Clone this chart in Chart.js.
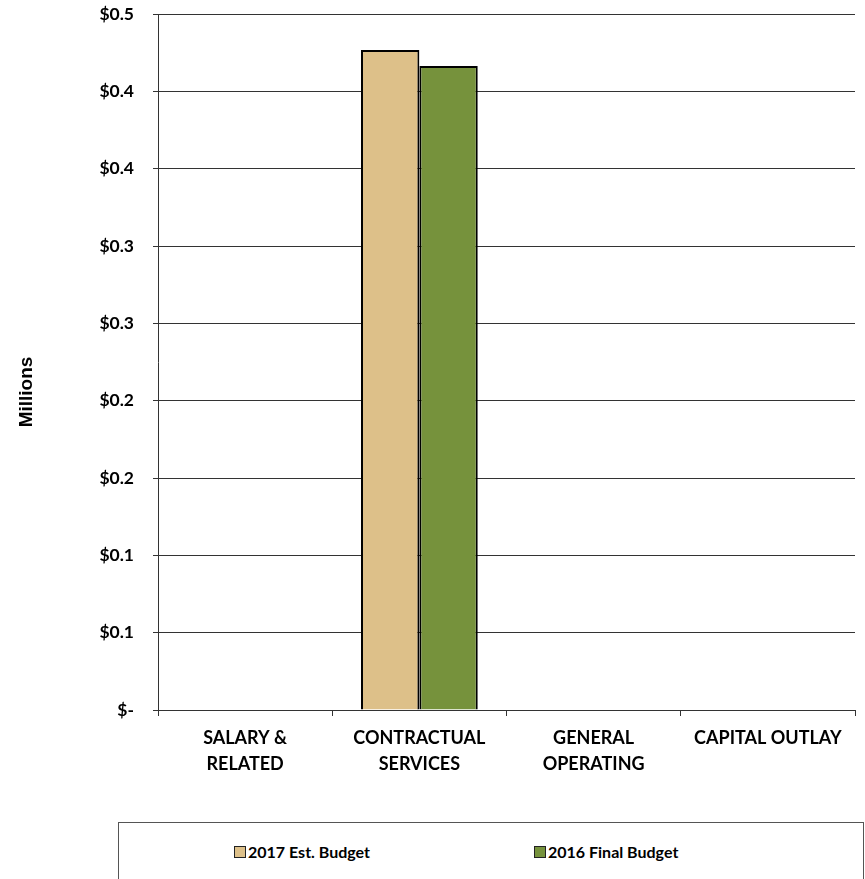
<!DOCTYPE html>
<html>
<head>
<meta charset="utf-8">
<script src="https://cdn.jsdelivr.net/npm/chart.js@4.4.1/dist/chart.umd.min.js"></script>
<style>
  html, body { margin: 0; padding: 0; background: #fff; }
  #wrap { position: relative; width: 865px; height: 879px; overflow: hidden; }
  #chartBox { position: absolute; left: 0; top: 0; width: 865px; height: 815px; }
  #legend {
    position: absolute; left: 118px; top: 822px; width: 746px; height: 70px;
    border: 1px solid #555; box-sizing: border-box;
    font: bold 16px Lato, sans-serif; color: #000;
  }
  #legend .item { position: absolute; top: 19px; display: flex; align-items: center; }
  #legend .swatch { width: 12px; height: 12px; border: 1px solid #222; margin-right: 2px; box-sizing: border-box; }
</style>
</head>
<body>
<div id="wrap">
  <div id="chartBox"><canvas id="budgetChart"></canvas></div>
  <div id="legend"></div>
</div>
<script>
const categories = [['SALARY &', 'RELATED'], ['CONTRACTUAL', 'SERVICES'], ['GENERAL', 'OPERATING'], 'CAPITAL OUTLAY'];
const seriesNames = ['2017 Est. Budget', '2016 Final Budget'];
const estBudget2017 = [0, 0.4267, 0, 0];
const finalBudget2016 = [0, 0.4164, 0, 0];
const seriesColors = ['#DDC089', '#76923C'];
const yMax = 0.45;
const yStep = 0.05;
const yTitle = 'Millions';

function moneyLabel(v) {
  if (Math.abs(v) < 1e-9) return '$-';
  return '$' + (Math.round(v * 10 + 1e-6) / 10).toFixed(1);
}

// rotated value-axis caption, sitting a little below the middle of the plot
const yCaption = {
  id: 'yCaption',
  afterDraw: function (chart) {
    const c = chart.ctx;
    const area = chart.chartArea;
    c.save();
    c.translate(27, (area.top + area.bottom) / 2 + 30);
    c.rotate(-Math.PI / 2);
    c.font = 'bold 19px "Liberation Sans", Arial, sans-serif';
    c.fillStyle = '#000';
    c.textAlign = 'center';
    c.textBaseline = 'middle';
    c.fillText(yTitle, 0, 0);
    c.restore();
  }
};

const ctx = document.getElementById('budgetChart').getContext('2d');
const chart = new Chart(ctx, {
  type: 'bar',
  data: {
    labels: categories,
    datasets: [
      { label: seriesNames[0], data: estBudget2017, backgroundColor: seriesColors[0], borderColor: '#000', borderWidth: 2 },
      { label: seriesNames[1], data: finalBudget2016, backgroundColor: seriesColors[1], borderColor: '#000', borderWidth: 2 }
    ]
  },
  plugins: [yCaption],
  options: {
    responsive: true,
    maintainAspectRatio: false,
    animation: false,
    categoryPercentage: 0.67,
    barPercentage: 1,
    layout: { padding: { top: 14, right: 10, left: 0, bottom: 0 } },
    plugins: {
      legend: { display: false },
      tooltip: { enabled: false }
    },
    scales: {
      x: {
        offset: true,
        grid: { offset: true, drawOnChartArea: false, color: '#333', tickLength: 6 },
        border: { color: '#333', width: 1 },
        ticks: {
          color: '#000', maxRotation: 0, autoSkip: false, padding: 10,
          font: { family: 'Lato', weight: 'bold', size: 18, lineHeight: 1.4 }
        },
        afterFit: function (scale) { scale.height = 105; }
      },
      y: {
        min: 0,
        max: yMax,
        ticks: {
          stepSize: yStep, color: '#000', padding: 19,
          font: { family: 'Lato', weight: 'bold', size: 17.5 },
          callback: function (v) { return moneyLabel(v); }
        },
        grid: { color: '#333', tickLength: 5 },
        border: { color: '#333', width: 1 },
        afterFit: function (scale) {
          scale.width = 158;
          scale.paddingTop = 0;
          scale.paddingBottom = 0;
        }
      }
    }
  }
});

// legend entries built from the chart's datasets
const legendEl = document.getElementById('legend');
const legendOffsets = [115, 415];
chart.data.datasets.forEach(function (ds, i) {
  const item = document.createElement('div');
  item.className = 'item';
  item.style.left = legendOffsets[i] + 'px';
  const sw = document.createElement('span');
  sw.className = 'swatch';
  sw.style.background = ds.backgroundColor;
  const txt = document.createElement('span');
  txt.textContent = ds.label;
  item.appendChild(sw);
  item.appendChild(txt);
  legendEl.appendChild(item);
});
</script>
</body>
</html>
